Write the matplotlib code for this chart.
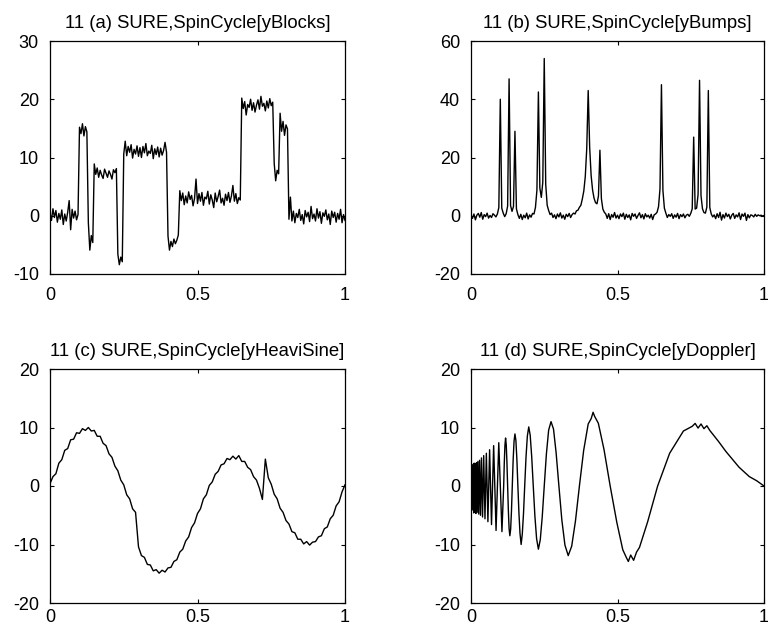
import numpy as np
import matplotlib
matplotlib.use("Agg")
import matplotlib.pyplot as plt

plt.rcParams['font.family'] = ['Liberation Sans', 'DejaVu Sans']
plt.rcParams['axes.unicode_minus'] = False

# (a) Blocks on a 0.005 grid
blocks = [0.5, -0.8, 1.2, -0.3, 0.9, -1.1, 0.4, -0.6, 1.0, -1.5,
          0.3, -0.9, 0.6, 2.6, -2.4, 1.1, -0.4, 0.8, -0.7, 0.2,
          15.2, 14.1, 15.8, 13.7, 15.3, 14.4,
          -1.2, -5.9, -3.4, -4.6,
          8.9, 7.1, 8.2, 6.6, 7.8, 7.0, 6.4, 8.0, 7.3, 6.6, 7.7, 7.1, 6.3, 7.9, 7.4, 8.1,
          -6.6, -8.4, -7.1, -7.9,
          10.6, 12.8, 10.3, 11.9, 10.9, 12.2, 9.9, 11.4, 10.6, 12.0,
          10.2, 11.7, 10.0, 11.9, 10.8, 12.4, 10.3, 11.1, 10.7, 12.1,
          9.8, 11.5, 10.5, 11.8, 10.1, 11.6, 10.4, 11.2, 12.6, 10.9,
          -3.5, -5.9, -4.4, -5.3, -4.0, -4.8, -4.2, -3.3,
          4.3, 2.6, 3.9, 1.9, 3.4, 2.2, 4.1, 2.8, 3.5, 1.7,
          3.0, 6.3, 2.1, 3.8, 2.5, 4.0, 1.8, 3.2, 2.9, 4.2,
          2.0, 3.6, 2.7, 1.4, 3.9, 2.4, 3.3, 4.4, 2.2, 3.0,
          1.8, 3.7, 2.6, 4.0, 2.3, 3.4, 5.2, 2.5, 3.8, 2.1, 3.1, 2.7,
          20.2, 18.4, 19.6, 17.3, 19.1, 18.6, 20.0, 18.1, 19.4, 17.8,
          19.0, 19.9, 18.3, 20.5, 18.8, 19.3, 18.0, 19.7, 18.5, 20.1, 18.9, 19.5,
          9.0, 6.0, 7.8, 7.2,
          17.6, 14.5, 16.2, 13.8, 15.6, 14.9,
          -0.6, 3.2, -0.9, 0.8, -1.2, 0.4, -0.3, 1.1, -0.8, 0.2,
          -1.4, 0.9, -0.2, 0.6, -1.0, 1.6, -0.5, 0.3, -0.9, 1.2,
          -0.4, 0.7, -1.3, 0.5, -0.1, 1.0, -0.7, 0.3, -1.5, 0.8,
          -0.3, 0.6, -1.1, 0.4, -0.6, 1.1, -1.2, 0.2, -0.8]

# (b) Bumps, same grid
bumps = [0.3, -0.9, 0.6, -1.4, 0.2, 0.8, -0.5, 1.1, -1.2, 0.4,
         -0.3, 0.9, -0.8, 0.1, -0.6, 0.7, 0.2, -0.4, 0.6, 2.8,
         40, 2.6, 0.9, -0.3, 0.7, 3.3, 47, 3.5, 1.5, 3.2,
         29, 2.4, 0.4, -0.9, 0.5, -1.3, 0.2, -0.7, 0.9, -1.1,
         0.3, -0.5, 0.8, 0.6, 2.9, 8.8, 42.5, 9.5, 6.3, 11.5,
         54, 10.8, 3.6, 1.8, 0.4, 0.9, -0.6, 0.3, -1.0, 0.6,
         -0.4, 1.0, -0.8, 0.2, -1.2, 0.5, -0.3, 0.8, -0.6, 0.4,
         0.9, 0.6, 1.7, 1.9, 2.9, 3.6, 5.8, 8.5, 13.4, 23.0,
         43, 23.5, 13.8, 8.8, 6.0, 4.5, 4.1, 6.8, 22.5, 5.9,
         2.3, 1.2, 0.6, -0.9, 0.7, -1.3, 0.4, -0.5, 1.1, -0.8,
         0.2, -1.0, 0.6, -0.3, 0.9, -1.2, 0.5, -0.6, 0.3, -1.4,
         0.8, -0.2, 0.6, -0.9, 0.1, 1.0, -0.7, 0.4, -1.1, 0.7,
         -0.4, 0.2, -0.8, 0.5, -1.3, 0.3, 0.6, 1.2, 3.1, 9.2,
         45, 8.7, 2.6, 0.9, -0.6, 0.4, -0.2, 0.7, -0.9, 0.3,
         -0.5, 0.8, -1.0, 0.4, -0.3, 0.6, -0.7, 0.2, 0.5, -0.2,
         0.8, 2.4, 27, 2.3, 2.6, 7.3, 46.5, 6.9, 2.4, 1.1,
         0.9, 3.0, 43, 2.8, 0.6, -0.4, 0.3, -1.0, 0.7, -0.6,
         1.2, -1.5, 0.4, -0.8, 0.9, -0.3, 0.5, -1.1, 0.2, 0.8,
         -0.9, 0.3, -0.4, 1.0, -1.3, 0.6, -0.2, 0.9, -1.6, 0.4,
         -0.7, 0.3, 0.1, -0.4, 0.5, -0.2, 0.3, 0.0, 0.2, -0.1,
         0.1]

# (c) HeaviSine, 0.01 grid
heavisine = [0.4, 1.6, 2.1, 3.9, 4.5, 6.1, 6.4, 7.9, 8.0, 9.1,
             9.0, 9.8, 9.5, 10.0, 9.4, 9.5, 8.5, 8.5, 7.3, 6.9,
             5.5, 4.9, 3.4, 2.6, 1.0, 0.2, -1.5, -2.2, -3.9, -4.5,
             -10.4, -11.9, -12.2, -13.4, -13.5, -14.5, -14.3, -14.9, -14.4, -14.7,
             -14.0, -13.9, -12.9, -12.6, -11.3, -10.8, -9.4, -8.7, -7.1, -6.3,
             -4.7, -3.9, -2.2, -1.5, 0.1, 0.7, 2.0, 2.5, 3.6, 3.8,
             4.7, 4.5, 5.1, 4.6, 5.2, 4.2, 4.2, 3.2, 2.8, 1.6,
             1.0, -0.4, -2.3, 4.6, 1.4, 0.3, -1.4, -2.2, -3.8, -4.5,
             -5.9, -6.5, -7.8, -8.0, -9.1, -9.1, -9.9, -9.5, -10.1, -9.6,
             -9.5, -8.7, -8.5, -7.3, -7.0, -5.6, -5.0, -3.4, -2.7, -1.0,
             0.2]

# (d) Doppler, read at peaks / troughs / intermediate phases
doppler_t = [0, .0006, .0019, .0032, .0045, .006, .0075, .0092, .0109, .0127,
             .0146, .0167, .0189, .0212, .0237, .0264, .0292, .0324, .0357, .0394,
             .0433, .0477, .0524, .0577, .0635, .07, .0773, .0855, .0948, .1056,
             .1115, .1136, .1158, .118, .1203, .1226, .125, .1275, .13, .1326,
             .1353, .1381, .1409, .1438, .1469, .15, .1532, .1566, .16, .1636,
             .1672, .1711, .175, .1791, .1833, .1877, .1923, .1971, .202, .2071,
             .2125, .2181, .2239, .23, .2364, .243, .25, .2573, .265, .2731,
             .2816, .2905, .30, .31, .3206, .3318, .3437, .3565, .37, .3845,
             .40, .41, .4167, .422, .4346, .454, .475, .4978, .518, .53,
             .537, .545, .555, .565, .575, .603, .637, .678, .725, .755,
             .765, .775, .785, .795, .805, .815, .845, .87, .915, .95,
             .975, 1.0]
doppler_y = [0.0, -1.8, 2.6, -3.4, 3.5, -4.1, 3.7, -4.6, 3.9, -4.4,
             3.8, -4.7, 4.0, -4.5, 4.2, -4.8, 4.4, -5.0, 4.8, -5.3,
             5.2, -5.6, 5.6, -6.1, 6.2, -6.6, 6.9, -7.6, 7.4, -7.8,
             0.0, 3.97, 6.93, 8.2, 7.04, 4.1, 0.0, -4.17, -7.28, -8.5,
             -7.4, -4.31, 0.0, 4.39, 7.66, 8.9, 7.8, 4.54, 0.0, -4.62,
             -8.08, -10.0, -8.23, -4.79, 0.0, 4.88, 8.53, 10.1, 8.69, 5.07,
             0.0, -5.16, -9.02, -10.8, -9.2, -5.36, 0.0, 5.46, 9.55, 11.0,
             9.74, 5.68, 0.0, -5.78, -10.1, -11.9, -10.28, -5.99, 0.0, 6.08,
             10.61, 11.5, 12.6, 11.9, 10.73, 6.22, 0.0, -6.25, -10.9, -12.2,
             -12.9, -11.8, -12.7, -11.3, -10.5, -6.1, 0.0, 5.6, 9.4, 10.2,
             10.7, 9.9, 10.6, 9.8, 10.3, 9.5, 7.6, 5.9, 3.2, 1.6,
             0.9, 0.0]

titles = ['11 (a) SURE,SpinCycle[yBlocks]', '11 (b) SURE,SpinCycle[yBumps]',
          '11 (c) SURE,SpinCycle[yHeaviSine]', '11 (d) SURE,SpinCycle[yDoppler]']
yticks = [[-10, 0, 10, 20, 30], [-20, 0, 20, 40, 60],
          [-20, -10, 0, 10, 20], [-20, -10, 0, 10, 20]]
xticks = [0, 0.5, 1]

W, H = 768, 627
# axes boxes in pixels: left, top, right, bottom
boxes = [(50, 41, 345, 274), (471, 41, 764, 274),
         (50, 369, 345, 603), (471, 369, 764, 603)]
xpads = [9, 9, 4, 4]

series = [
    (np.linspace(0, 1, len(blocks)), blocks),
    (np.linspace(0, 1, len(bumps)), bumps),
    (np.linspace(0, 1, len(heavisine)), heavisine),
    (doppler_t, doppler_y),
]

fig = plt.figure(figsize=(W / 100, H / 100), dpi=100)
for (l, t, r, b), (x, y), title, yt, xp in zip(boxes, series, titles, yticks, xpads):
    ax = fig.add_axes([l / W, 1 - b / H, (r - l) / W, (b - t) / H])
    ax.plot(x, y, color='black', lw=1.0)
    ax.set_xlim(0, 1)
    ax.set_ylim(yt[0], yt[-1])
    ax.set_xticks(xticks)
    ax.set_xticklabels(['0', '0.5', '1'])
    ax.set_yticks(yt)
    ax.tick_params(direction='in', length=3, width=0.8, top=True, right=True,
                   labelsize=13)
    ax.tick_params(axis='x', pad=xp)
    ax.tick_params(axis='y', pad=8)
    for s in ax.spines.values():
        s.set_linewidth(0.9)
    ax.set_title(title, fontsize=13.3, pad=9)

fig.savefig('out.png', dpi=100)
